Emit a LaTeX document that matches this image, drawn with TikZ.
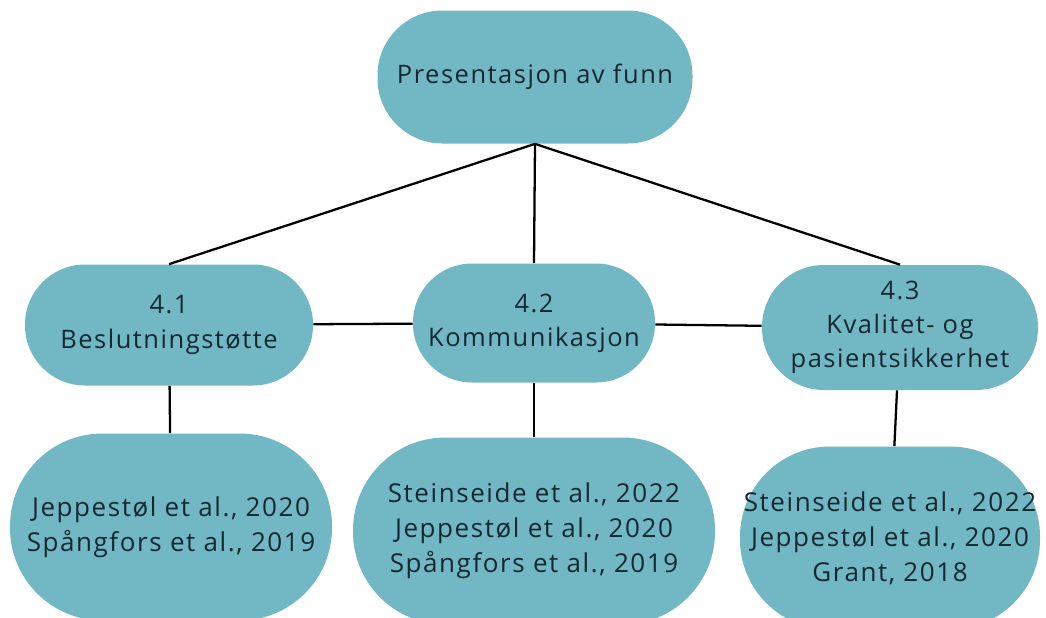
\documentclass[tikz,border=0pt]{standalone}
\usepackage{fontspec}
\setmainfont[LetterSpace=6]{Open Sans}
\usepackage{tikz}
\definecolor{tealbox}{RGB}{114,183,196}
\definecolor{darktext}{RGB}{20,40,50}

\begin{document}
\begin{tikzpicture}[
        pill/.style={shape=rectangle,fill=tealbox,draw=none,text=darktext,align=center,
            font=\fontsize{14.5}{19.5}\selectfont,inner sep=0pt},
        refs/.style={pill,font=\fontsize{14.8}{20}\selectfont}]
        \useasboundingbox (0,0) rectangle (20.92,-12.34);
        \node[pill,minimum width=6.30cm,minimum height=2.66cm,rounded corners=1.3cm] (F) at (10.70,-1.54) {Presentasjon av funn};
        \node[pill,minimum width=5.76cm,minimum height=2.42cm,rounded corners=1.2cm] (B) at (3.38,-6.50) {4.1\\Beslutningstøtte};
        \node[pill,minimum width=4.84cm,minimum height=2.38cm,rounded corners=1.18cm] (K) at (10.68,-6.46) {4.2\\Kommunikasjon};
        \node[pill,minimum width=5.52cm,minimum height=2.50cm,rounded corners=1.24cm] (P) at (18.00,-6.55) {4.3\\Kvalitet- og\\pasientsikkerhet};
        \node[refs,minimum width=6.44cm,minimum height=3.74cm,rounded corners=1.85cm] (RB) at (3.42,-10.54) {Jeppestøl et al., 2020\\Spångfors et al., 2019};
        \node[refs,minimum width=7.24cm,minimum height=3.74cm,rounded corners=1.85cm] (RK) at (10.68,-10.62) {Steinseide et al., 2022\\Jeppestøl et al., 2020\\Spångfors et al., 2019};
        \node[refs,minimum width=6.00cm,minimum height=3.66cm,rounded corners=1.8cm] (RP) at (17.80,-10.76) {Steinseide et al., 2022\\Jeppestøl et al., 2020\\Grant, 2018};
        \path [line width=1.3pt] (F.south) edge (B.north);
        \path [line width=1.3pt] (F.south) edge (K.north);
        \path [line width=1.3pt] (F.south) edge (P.north);
        \path [line width=1.3pt] (B) edge (K);
        \path [line width=1.3pt] (K) edge (P);
        \path [line width=1.3pt] (B) edge (RB);
        \path [line width=1.3pt] (K) edge (RK);
        \path [line width=1.3pt] (P) edge (RP);
    \end{tikzpicture}
\end{document}
